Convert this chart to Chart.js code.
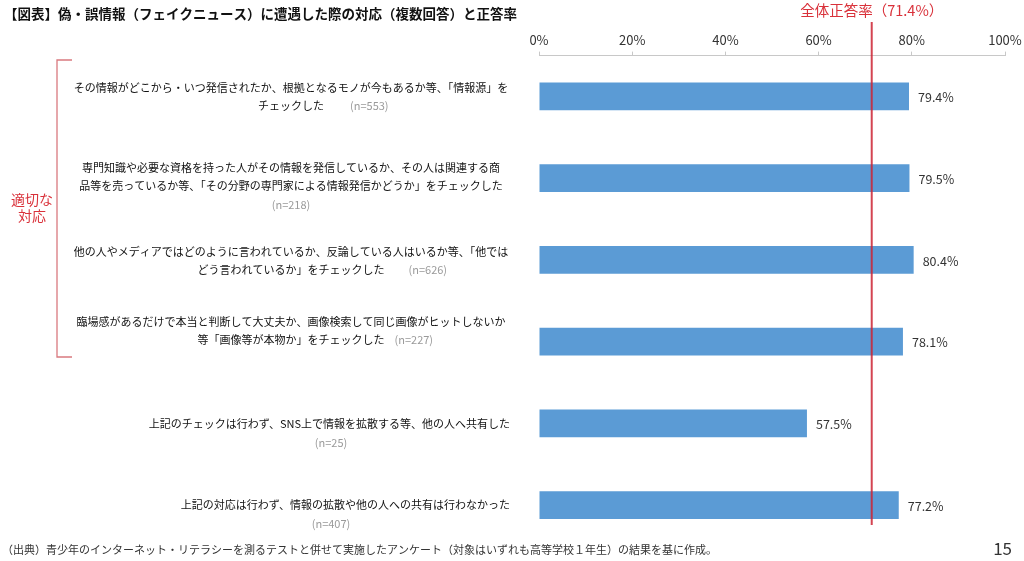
<!DOCTYPE html>
<html><head><meta charset="utf-8">
<script src="https://cdn.jsdelivr.net/npm/chart.js@4.4.0/dist/chart.umd.min.js"></script>
<style>html,body{margin:0;padding:0;background:#fff;}#wrap{position:relative;width:1024px;height:561px;}</style>
</head><body><div id="wrap"><canvas id="c" width="1024" height="561"></canvas></div>
<script>
// ---- data ----
const categories = [
  ["その情報がどこから・いつ発信されたか、根拠となるモノが今もあるか等、「情報源」を", "チェックした"],
  ["専門知識や必要な資格を持った人がその情報を発信しているか、その人は関連する商", "品等を売っているか等、「その分野の専門家による情報発信かどうか」をチェックした"],
  ["他の人やメディアではどのように言われているか、反論している人はいるか等、「他では", "どう言われているか」をチェックした"],
  ["臨場感があるだけで本当と判断して大丈夫か、画像検索して同じ画像がヒットしないか", "等「画像等が本物か」をチェックした"],
  ["上記のチェックは行わず、SNS上で情報を拡散する等、他の人へ共有した"],
  ["上記の対応は行わず、情報の拡散や他の人への共有は行わなかった"]
];
const sampleSizes = [553, 218, 626, 227, 25, 407];
const values = [79.4, 79.5, 80.4, 78.1, 57.5, 77.2];
const overallRate = 71.4;
const xTicks = [0, 20, 40, 60, 80, 100];
const titleText = "【図表】偽・誤情報（フェイクニュース）に遭遇した際の対応（複数回答）と正答率";
const overallLabel = "全体正答率（71.4%）";
const groupLabel = ["適切な", "対応"];
const footerText = "（出典）青少年のインターネット・リテラシーを測るテストと併せて実施したアンケート（対象はいずれも高等学校１年生）の結果を基に作成。";
const pageNo = "15";

// ---- layout of the category text (not data) ----
const labelLayout = [
  {dy: -9, align: 'center', nInline: true, nGap: 26},
  {dy: -10, align: 'center', nInline: false},
  {dy: -8, align: 'center', nInline: true, nGap: 24},
  {dy: -20, align: 'center', nInline: true, nGap: 10},
  {dy: 0, align: 'right', nInline: false, nX: 331},
  {dy: 0, align: 'right', nInline: false, nX: 331}
];
const JP = '"Noto Sans CJK JP", "Noto Sans", sans-serif';

const deco = {
  id: 'deco',
  afterDatasetsDraw(chart) {
    const ctx = chart.ctx, x = chart.scales.x;
    const meta = chart.getDatasetMeta(0);
    ctx.save();
    ctx.font = '12.5px ' + JP;
    ctx.fillStyle = '#333';
    ctx.textAlign = 'left';
    ctx.textBaseline = 'middle';
    meta.data.forEach((bar, i) => {
      ctx.fillText(values[i].toFixed(1) + '%', bar.x + 9, bar.y + 1);
    });
    const px = x.getPixelForValue(overallRate);
    ctx.strokeStyle = 'rgba(205,35,50,0.85)';
    ctx.lineWidth = 2;
    ctx.beginPath();
    ctx.moveTo(px, 22);
    ctx.lineTo(px, 525);
    ctx.stroke();
    ctx.fillStyle = '#d9313a';
    ctx.font = '14.5px ' + JP;
    ctx.textAlign = 'center';
    ctx.fillText(overallLabel, px, 10);
    ctx.restore();
  },
  afterDraw(chart) {
    const ctx = chart.ctx, y = chart.scales.y;
    ctx.save();
    ctx.fillStyle = '#111';
    ctx.font = 'bold 13.5px ' + JP;
    ctx.textAlign = 'left';
    ctx.textBaseline = 'middle';
    ctx.fillText(titleText, 4, 14);
    const cx = 291, rx = 510, lh = 18;
    categories.forEach((lines, i) => {
      const L = labelLayout[i];
      const cy = y.getPixelForValue(i);
      let lastRight = 0, lastY = 0;
      lines.forEach((t, k) => {
        const ly = cy + L.dy + k * lh;
        ctx.font = '11px ' + JP;
        ctx.fillStyle = '#111';
        const w = ctx.measureText(t).width;
        if (L.align === 'center') {
          ctx.textAlign = 'center';
          ctx.fillText(t, cx, ly);
          lastRight = cx + w / 2;
        } else {
          ctx.textAlign = 'right';
          ctx.fillText(t, rx, ly);
          lastRight = rx;
        }
        lastY = ly;
      });
      ctx.font = '11px ' + JP;
      ctx.fillStyle = '#9a9a9a';
      const nt = '(n=' + sampleSizes[i] + ')';
      if (L.nInline) {
        ctx.textAlign = 'left';
        ctx.fillText(nt, lastRight + L.nGap, lastY);
      } else {
        ctx.textAlign = 'center';
        ctx.fillText(nt, L.nX || cx, lastY + lh + 1);
      }
    });
    const yTop = 60, yBot = 357;
    ctx.strokeStyle = '#d9797f';
    ctx.lineWidth = 1.3;
    ctx.beginPath();
    ctx.moveTo(72, yTop);
    ctx.lineTo(57, yTop);
    ctx.lineTo(57, yBot);
    ctx.lineTo(72, yBot);
    ctx.stroke();
    ctx.fillStyle = '#d9313a';
    ctx.font = '14px ' + JP;
    ctx.textAlign = 'center';
    ctx.fillText(groupLabel[0], 32, 200);
    ctx.fillText(groupLabel[1], 32, 216);
    ctx.fillStyle = '#333';
    ctx.font = '11px ' + JP;
    ctx.textAlign = 'left';
    ctx.fillText(footerText, 2, 550);
    ctx.font = '17px ' + JP;
    ctx.textAlign = 'right';
    ctx.fillText(pageNo, 1012, 549);
    ctx.restore();
  }
};

new Chart(document.getElementById('c'), {
  type: 'bar',
  data: {
    labels: categories.map(l => l.join('')),
    datasets: [{
      data: values,
      backgroundColor: '#5b9bd5',
      borderWidth: 0,
      categoryPercentage: 1,
      barPercentage: 0.34
    }]
  },
  options: {
    indexAxis: 'y',
    responsive: false,
    animation: false,
    devicePixelRatio: 1,
    layout: {padding: {left: 539, right: 19, top: 28, bottom: 15}},
    scales: {
      x: {
        position: 'top',
        min: 0, max: 100,
        afterBuildTicks(s) { s.ticks = xTicks.map(v => ({value: v})); },
        afterFit(s) { s.paddingRight = 0; s.paddingLeft = 0; },
        ticks: {
          callback: v => v + '%',
          color: '#333',
          font: {size: 13, family: JP},
          padding: 4,
          maxRotation: 0
        },
        grid: {display: true, drawOnChartArea: false, drawTicks: true, tickLength: 4, color: '#c8c8c8'},
        border: {display: true, color: '#c8c8c8'}
      },
      y: {display: false}
    },
    plugins: {legend: {display: false}, tooltip: {enabled: false}}
  },
  plugins: [deco]
});
</script>
</body></html>
